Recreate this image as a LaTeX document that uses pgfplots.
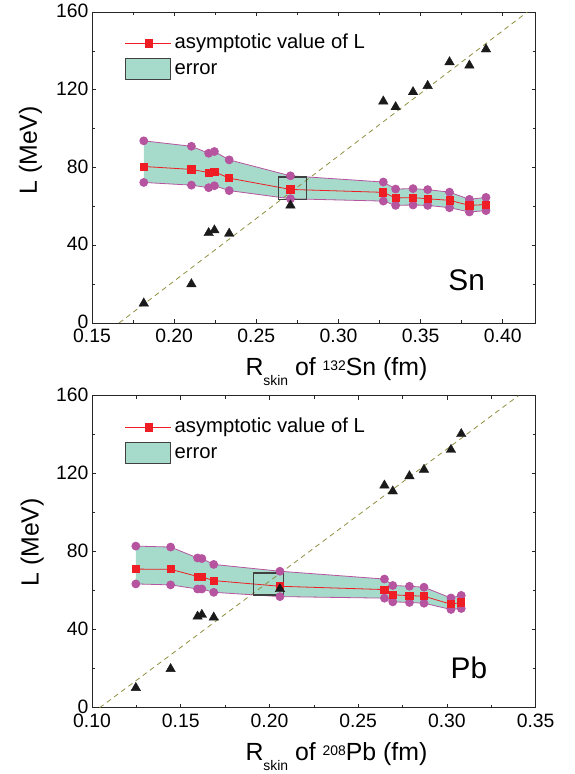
\documentclass[border=0pt]{standalone}
\usepackage{fontspec}
\setmainfont{Liberation Sans}
\usepackage{pgfplots}
\usepackage{pgfplotstable}
\usepgfplotslibrary{fillbetween}
\pgfplotsset{compat=1.18}

\definecolor{bandfill}{RGB}{166,218,202}
\definecolor{errpurple}{RGB}{182,84,160}
\definecolor{asymred}{RGB}{238,30,36}
\definecolor{diagolive}{RGB}{143,143,64}
\definecolor{boxgray}{RGB}{64,64,64}
\definecolor{tri}{RGB}{26,26,26}

% x  = R_skin, L = asymptotic value, up/lo = error band, tri = model values
\pgfplotstableread{
x      L     up    lo    tri
0.1815 80.5  93.7  72.3  10.1
0.2105 79.0  90.9  70.9  20.0
0.2210 77.4  87.3  69.6  46.3
0.2245 77.8  88.2  70.6  47.7
0.2335 74.5  83.9  68.1  46.0
0.2708 68.7  75.7  63.9  60.5
0.3273 67.2  72.5  62.7  114.0
0.3348 64.3  68.9  60.5  111.1
0.3454 64.5  69.1  60.7  118.8
0.3543 63.9  68.6  60.5  122.0
0.3676 63.1  67.3  59.3  134.2
0.3797 60.5  63.6  57.1  132.5
0.3898 60.9  64.6  57.8  140.8
}\sndata

\pgfplotstableread{
x      L     up    lo    tri
0.1247 71.1  82.9  63.5  10.2
0.1443 71.0  82.4  63.0  19.9
0.1595 67.3  76.8  60.9  46.8
0.1619 67.1  76.5  60.9  47.7
0.1686 65.2  73.5  59.2  46.3
0.2059 62.3  70.0  57.0  60.9
0.2648 60.6  66.0  56.2  114.0
0.2695 57.9  62.7  54.3  111.0
0.2789 57.5  62.3  54.0  118.8
0.2871 57.2  61.8  53.6  122.1
0.3023 53.1  56.3  50.4  132.3
0.3081 54.0  57.6  50.9  140.4
}\pbdata

\pgfplotsset{
  skinaxis/.style={
    scale only axis,
    width=445bp,
    ymin=0, ymax=160,
    ytick={0,40,80,120,160},
    minor x tick num=1, minor y tick num=1,
    xtick pos=both, ytick pos=both,
    tick align=inside,
    major tick length=4bp, minor tick length=3bp,
    every tick/.style={black!85, line width=0.6bp},
    axis line style={black!85, line width=0.8bp},
    tick label style={font=\fontsize{19.5}{20}\selectfont, inner sep=1bp},
    /pgf/number format/assume math mode=true,
    xticklabel style={yshift=-5.3bp, /pgf/number format/.cd, fixed, fixed zerofill, precision=2},
    yticklabel style={xshift=-2.3bp, yshift=1bp},
    label style={font=\fontsize{25}{27}\selectfont},
    ylabel={L (MeV)},
    xlabel style={at={(axis description cs:0.551,0)}, anchor=base, yshift=-53bp},
    legend style={at={(axis description cs:0.067,0.94)}, anchor=north west,
      draw=none, fill=none, font=\fontsize{20.4}{22}\selectfont,
      nodes={inner sep=1bp, text height=15bp, text depth=4bp},
      row sep=4.5bp, column sep=2bp},
    legend cell align=left,
  },
  asymline/.style={asymred, line width=0.8bp, mark=square*, mark size=3.6bp,
    mark options={solid, fill=asymred, draw=asymred}},
  errline/.style={errpurple, line width=0.8bp, mark=*, mark size=4bp,
    mark options={fill=errpurple, draw=errpurple}},
  trimark/.style={only marks, mark=triangle*, mark size=5.5bp,
    mark options={fill=tri, draw=tri}},
  diagline/.style={diagolive, dashed, line width=0.8bp, dash pattern=on 5bp off 4bp},
  boxline/.style={boxgray, line width=1.4bp},
}

\newcommand{\legendentries}{%
  \addlegendimage{legend image code/.code={%
    \draw[asymred, line width=0.8bp] (0bp,0bp) -- (46bp,0bp);
    \fill[asymred] (19.4bp,-3.6bp) rectangle (26.6bp,3.6bp);}}
  \addlegendentry{asymptotic value of L}
  \addlegendimage{legend image code/.code={%
    \draw[fill=bandfill, draw=boxgray, line width=1bp] (0bp,-10.5bp) rectangle (45bp,10.5bp);}}
  \addlegendentry{error}
}
\newcommand{\skinlabel}[2]{R\raisebox{-10bp}{\fontsize{14}{14}\selectfont skin} of \raisebox{5bp}{\fontsize{14}{14}\selectfont #1}#2 (fm)}

\begin{document}
\begin{tikzpicture}

% ---------- Sn ----------
\begin{axis}[skinaxis, height=312bp, at={(92.3bp,450bp)}, anchor=south west,
    xmin=0.15, xmax=0.42, xtick={0.15,0.20,...,0.41},
    ylabel style={at={(axis description cs:-0.139,0.555)}, anchor=center},
    xlabel={\skinlabel{132}{Sn}}]
  \legendentries
  \addplot[name path=snup, draw=none, forget plot] table[x=x, y=up] {\sndata};
  \addplot[name path=snlo, draw=none, forget plot] table[x=x, y=lo] {\sndata};
  \addplot[bandfill, forget plot] fill between[of=snup and snlo];
  \addplot[diagline, forget plot] coordinates {(0.1665,0) (0.4150,160)};
  \addplot[errline, forget plot] table[x=x, y=up] {\sndata};
  \addplot[errline, forget plot] table[x=x, y=lo] {\sndata};
  \addplot[asymline, forget plot] table[x=x, y=L] {\sndata};
  \addplot[boxline, forget plot] coordinates {(0.2636,63.6) (0.2807,63.6) (0.2807,75.0) (0.2636,75.0)} -- cycle;
  \addplot[trimark, forget plot] table[x=x, y=tri] {\sndata};
  \node[font=\fontsize{30}{30}\selectfont] at (axis cs:0.378,22) {Sn};
\end{axis}

% ---------- Pb ----------
\begin{axis}[skinaxis, height=313bp, at={(92.3bp,64bp)}, anchor=south west,
    xmin=0.10, xmax=0.35, xtick={0.10,0.15,...,0.36},
    ylabel style={at={(axis description cs:-0.135,0.53)}, anchor=center},
    xlabel={\skinlabel{208}{Pb}}]
  \legendentries
  \addplot[name path=pbup, draw=none, forget plot] table[x=x, y=up] {\pbdata};
  \addplot[name path=pblo, draw=none, forget plot] table[x=x, y=lo] {\pbdata};
  \addplot[bandfill, forget plot] fill between[of=pbup and pblo];
  \addplot[diagline, forget plot] coordinates {(0.1043,0) (0.3403,160)};
  \addplot[errline, forget plot] table[x=x, y=up] {\pbdata};
  \addplot[errline, forget plot] table[x=x, y=lo] {\pbdata};
  \addplot[asymline, forget plot] table[x=x, y=L] {\pbdata};
  \addplot[boxline, forget plot] coordinates {(0.1909,57.9) (0.2078,57.9) (0.2078,69.1) (0.1909,69.1)} -- cycle;
  \addplot[trimark, forget plot] table[x=x, y=tri] {\pbdata};
  \node[font=\fontsize{30}{30}\selectfont] at (axis cs:0.3124,20.4) {Pb};
\end{axis}

\path (0bp,0bp) rectangle (576bp,774bp);
\end{tikzpicture}
\end{document}
